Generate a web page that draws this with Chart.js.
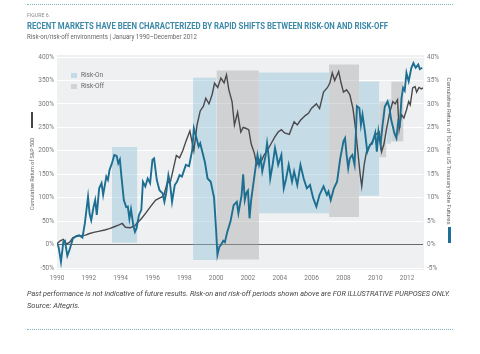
<!DOCTYPE html>
<html>
<head>
<meta charset="utf-8">
<script src="https://cdn.jsdelivr.net/npm/chart.js@4.4.1/dist/chart.umd.min.js"></script>
<style>
    body { margin: 0; background: #fff; }
    #wrap { position: relative; width: 480px; height: 354px; overflow: hidden; font-family: "Liberation Sans Narrow", Roboto, sans-serif; }
    canvas { position: absolute; left: 0; top: 0; }
    .txt { position: absolute; white-space: nowrap; display: inline-block; transform-origin: 0 50%; line-height: 1; }
    .dots { position: absolute; left: 27px; width: 426px; height: 0; border-top: 1px dotted #7fb0c4; }
    .rot { position: absolute; white-space: nowrap; line-height: 1; font-size: 6px; color: #666; }
    .bar { position: absolute; }
    .sw { position: absolute; width: 6px; height: 5px; }
</style>
</head>
<body>
<div id="wrap">
    <canvas id="grafico" width="480" height="354"></canvas>

    <div class="dots" style="top:4px"></div>
    <span class="txt" id="fig" style="left:27px; top:12px; font-size:6px; color:#8a8a8a;">FIGURE 6.</span>
    <span class="txt" id="titulo" style="left:27px; top:22px; font-size:9px; font-weight:bold; color:#3c89a8;">RECENT MARKETS HAVE BEEN CHARACTERIZED BY RAPID SHIFTS BETWEEN RISK-ON AND RISK-OFF</span>
    <span class="txt" id="sub" style="left:27px; top:34px; font-size:6.5px; color:#666;">Risk-on/risk-off environments | January 1990–December 2012</span>

    <div class="sw" style="left:71px; top:73px; background:#c3dbe7;"></div>
    <span class="txt" style="left:81px; top:72px; font-size:6.5px; color:#666;">Risk-On</span>
    <div class="sw" style="left:71px; top:84px; background:#d3d3d5;"></div>
    <span class="txt" style="left:81px; top:83px; font-size:6.5px; color:#666;">Risk-Off</span>

    <div class="rot" id="tituloEsq" style="left:32px; top:174px;"><span id="tEsq" style="display:inline-block;">Cumulative Return of S&amp;P 500</span></div>
    <div class="bar" style="left:31px; top:112px; width:2px; height:16px; background:#444;"></div>
    <div class="rot" id="tituloDir" style="left:449px; top:151px;"><span id="tDir" style="display:inline-block;">Cumulative Return of 10-Year US Treasury Note Futures</span></div>
    <div class="bar" style="left:448px; top:227px; width:3px; height:16px; background:#1e6f93;"></div>

    <span class="txt" id="nota" style="left:27px; top:291px; font-size:7px; font-style:italic; color:#444;">Past performance is not indicative of future results. Risk-on and risk-off periods shown above are FOR ILLUSTRATIVE PURPOSES ONLY.</span>
    <span class="txt" id="fonte" style="left:27px; top:303px; font-size:7px; font-style:italic; color:#444;">Source: Altegris.</span>
    <div class="dots" style="top:329px"></div>
</div>

<script>
// S&P 500 acumulado (eixo esquerdo, %)
var spAnos = [1990.0, 1990.2, 1990.4, 1990.6, 1990.8, 1991.0, 1991.2, 1991.5, 1991.8, 1992.0, 1992.3, 1992.6, 1993.0, 1993.3, 1993.6, 1993.9, 1994.1, 1994.3, 1994.6, 1994.9, 1995.0, 1995.3, 1995.6, 1995.9, 1996.2, 1996.5, 1996.7, 1996.95, 1997.1, 1997.3, 1997.5, 1997.7, 1997.9, 1998.1, 1998.35, 1998.6, 1998.8, 1999.0, 1999.2, 1999.35, 1999.55, 1999.75, 1999.9, 2000.1, 2000.3, 2000.5, 2000.65, 2000.8, 2001.0, 2001.15, 2001.35, 2001.55, 2001.7, 2001.85, 2002.05, 2002.2, 2002.4, 2002.55, 2002.7, 2002.8, 2003.0, 2003.2, 2003.45, 2003.7, 2003.9, 2004.1, 2004.3, 2004.6, 2004.9, 2005.1, 2005.3, 2005.6, 2005.8, 2006.0, 2006.3, 2006.5, 2006.75, 2007.0, 2007.15, 2007.3, 2007.45, 2007.7, 2007.85, 2008.0, 2008.2, 2008.4, 2008.6, 2008.75, 2008.9, 2009.05, 2009.15, 2009.3, 2009.45, 2009.7, 2009.9, 2010.0, 2010.25, 2010.4, 2010.55, 2010.7, 2010.9, 2011.1, 2011.25, 2011.4, 2011.5, 2011.65, 2011.8, 2011.96, 2012.1, 2012.2, 2012.35, 2012.5, 2012.6, 2012.75, 2012.9, 2013.0];
var spValores = [2, 8, 11, 1, 5, 15, 17, 19, 20, 23, 26, 28, 31, 34, 38, 42, 45, 37, 36, 40, 45, 55, 68, 82, 95, 100, 103, 135, 130, 160, 190, 185, 200, 220, 242, 200, 255, 285, 295, 312, 300, 320, 344, 335, 355, 345, 362, 330, 305, 255, 282, 240, 250, 248, 245, 215, 195, 170, 180, 175, 190, 200, 215, 230, 240, 245, 238, 235, 262, 255, 265, 275, 280, 291, 300, 290, 325, 335, 345, 366, 350, 369, 345, 325, 330, 320, 290, 250, 200, 150, 124, 170, 198, 213, 225, 234, 240, 198, 215, 245, 280, 305, 300, 309, 245, 277, 270, 287, 305, 298, 334, 337, 325, 335, 332, 334];

// Treasury 10 anos acumulado (eixo direito, %)
var tnAnos = [1990.0, 1990.1, 1990.25, 1990.4, 1990.5, 1990.65, 1990.8, 1991.0, 1991.2, 1991.4, 1991.6, 1991.75, 1991.95, 1992.05, 1992.15, 1992.3, 1992.4, 1992.5, 1992.65, 1992.8, 1992.9, 1993.1, 1993.2, 1993.3, 1993.45, 1993.6, 1993.75, 1993.85, 1993.95, 1994.05, 1994.2, 1994.35, 1994.45, 1994.55, 1994.65, 1994.8, 1994.9, 1995.0, 1995.15, 1995.3, 1995.4, 1995.55, 1995.7, 1995.85, 1996.0, 1996.1, 1996.27, 1996.44, 1996.64, 1996.75, 1996.86, 1997.0, 1997.1, 1997.23, 1997.4, 1997.54, 1997.7, 1997.85, 1998.1, 1998.3, 1998.5, 1998.6, 1998.7, 1998.9, 1999.0, 1999.1, 1999.3, 1999.46, 1999.66, 1999.87, 2000.0, 2000.08, 2000.2, 2000.3, 2000.45, 2000.55, 2000.7, 2000.9, 2001.1, 2001.3, 2001.4, 2001.6, 2001.7, 2001.8, 2001.9, 2002.0, 2002.1, 2002.2, 2002.3, 2002.5, 2002.6, 2002.7, 2002.8, 2002.9, 2003.1, 2003.2, 2003.3, 2003.4, 2003.55, 2003.7, 2003.8, 2003.9, 2004.1, 2004.25, 2004.4, 2004.56, 2004.77, 2004.9, 2005.1, 2005.3, 2005.5, 2005.7, 2005.9, 2006.1, 2006.3, 2006.5, 2006.75, 2006.96, 2007.06, 2007.2, 2007.4, 2007.6, 2007.8, 2008.0, 2008.1, 2008.2, 2008.3, 2008.4, 2008.56, 2008.7, 2008.85, 2009.0, 2009.1, 2009.2, 2009.35, 2009.5, 2009.67, 2009.8, 2010.0, 2010.1, 2010.2, 2010.33, 2010.46, 2010.6, 2010.77, 2010.9, 2011.0, 2011.2, 2011.33, 2011.44, 2011.54, 2011.65, 2011.75, 2011.85, 2011.96, 2012.1, 2012.27, 2012.4, 2012.54, 2012.7, 2012.8, 2012.95];
var tnValores = [0.3, -0.5, -3.7, 0.6, 0.8, -2.4, -1.0, 1.3, 1.8, 2.0, 1.5, 4.5, 10.2, 6.5, 5.2, 8.1, 9.5, 6.3, 12.0, 13.1, 10.6, 14.5, 13.8, 15.9, 17.3, 19.1, 18.9, 17.3, 18.1, 14.5, 9.5, 8.0, 8.1, 5.5, 7.5, 4.0, 2.7, 3.5, 6.3, 7.4, 13.4, 12.4, 14.1, 13.1, 18.1, 18.4, 13.8, 11.6, 10.9, 9.1, 10.9, 14.8, 13.1, 9.1, 12.7, 13.4, 14.8, 14.5, 17.0, 16.7, 20.2, 24.8, 23.6, 20.9, 21.6, 20.2, 17.5, 14.1, 13.4, 10.0, 3.0, -2.2, -0.5, -0.1, 0.8, 0.5, 2.7, 4.9, 8.4, 9.1, 6.7, 10.5, 15.0, 9.5, 11.0, 11.5, 5.6, 9.5, 12.0, 17.0, 19.1, 17.0, 18.5, 15.6, 18.8, 21.6, 18.8, 14.1, 17.0, 20.6, 19.0, 17.0, 19.1, 12.0, 14.1, 17.0, 13.4, 15.6, 12.7, 17.0, 14.1, 12.0, 12.7, 9.9, 8.1, 10.6, 12.4, 10.6, 11.3, 9.5, 12.0, 13.4, 18.4, 22.0, 22.7, 19.1, 16.3, 18.4, 19.1, 17.0, 29.5, 29.1, 25.5, 27.7, 24.1, 19.8, 21.3, 21.5, 23.8, 19.8, 24.1, 21.3, 25.5, 29.4, 30.5, 29.1, 26.6, 23.8, 22.7, 26.2, 25.5, 31.2, 33.4, 32.8, 36.6, 34.8, 37.7, 38.7, 37.7, 38.4, 37.4, 37.7];

// periodos: [inicio, fim, minimo, maximo] no eixo esquerdo
var riskOn = [[1993.45, 1995.05, 4, 208], [1998.55, 2000.02, -33, 356], [2002.69, 2007.1, 67, 367], [2008.98, 2010.25, 104, 348], [2010.7, 2011.0, 215, 310]];
var riskOff = [[2000.02, 2002.69, -32, 371], [2007.1, 2008.98, 59, 384], [2010.25, 2010.7, 186, 305], [2011.0, 2011.78, 220, 347]];

var anosTicks = [1990, 1992, 1994, 1996, 1998, 2000, 2002, 2004, 2006, 2008, 2010, 2012];

function pontos(xs, ys) {
    var lista = [];
    for (var i = 0; i < xs.length; i++) {
        lista.push({ x: xs[i], y: ys[i] });
    }
    return lista;
}

function caixas(periodos, cor) {
    return periodos.map(function (p) {
        return {
            data: [{ x: p[0], y: p[3] }, { x: p[1], y: p[3] }],
            yAxisID: 'y',
            borderWidth: 0,
            pointRadius: 0,
            backgroundColor: cor,
            fill: { value: p[2] },
            order: 10
        };
    });
}

var fundo = {
    id: 'fundo',
    beforeDraw: function (chart) {
        var a = chart.chartArea;
        var ctx = chart.ctx;
        ctx.save();
        ctx.fillStyle = '#eef0f2';
        ctx.fillRect(a.left, a.top - 2, a.right - a.left + 1, a.bottom - a.top + 4);
        ctx.restore();
    }
};

var fonteTicks = { family: '"Liberation Sans Narrow", Roboto, sans-serif', size: 6.5 };

var datasets = []
    .concat(caixas(riskOn, 'rgba(140, 190, 215, 0.42)'))
    .concat(caixas(riskOff, 'rgba(168, 168, 170, 0.42)'));

datasets.push({
    label: 'S&P 500',
    data: pontos(spAnos, spValores),
    yAxisID: 'y',
    borderColor: '#4a4a4c',
    borderWidth: 1.4,
    pointRadius: 0,
    fill: false,
    order: 2
});
datasets.push({
    label: '10-Year Treasury',
    data: pontos(tnAnos, tnValores),
    yAxisID: 'y2',
    borderColor: '#1d6f92',
    borderWidth: 1.9,
    pointRadius: 0,
    fill: false,
    order: 1
});

new Chart(document.getElementById('grafico'), {
    type: 'line',
    data: { datasets: datasets },
    options: {
        responsive: false,
        animation: false,
        devicePixelRatio: 1,
        layout: { padding: { top: 57, bottom: 62, left: 27, right: 27 } },
        plugins: {
            legend: { display: false },
            tooltip: { enabled: false }
        },
        scales: {
            x: {
                type: 'linear',
                min: 1990,
                max: 2013,
                afterFit: function (s) { s.height = 24; },
                afterBuildTicks: function (s) {
                    s.ticks = anosTicks.map(function (v) { return { value: v }; });
                },
                ticks: {
                    color: '#7a7a7a',
                    font: fonteTicks,
                    padding: 6,
                    maxRotation: 0,
                    autoSkip: false,
                    callback: function (v) { return String(v); }
                },
                grid: { display: false, drawTicks: false },
                border: { display: false }
            },
            y: {
                min: -50,
                max: 400,
                afterFit: function (s) { s.width = 30; },
                ticks: {
                    stepSize: 50,
                    color: '#7a7a7a',
                    font: fonteTicks,
                    padding: 3,
                    callback: function (v) { return v + '%'; }
                },
                grid: {
                    drawTicks: false,
                    lineWidth: 1,
                    color: function (c) { return c.tick.value === 0 ? '#6a6a6a' : '#ffffff'; }
                },
                border: { display: false }
            },
            y2: {
                position: 'right',
                min: -5,
                max: 40,
                afterFit: function (s) { s.width = 30; },
                ticks: {
                    stepSize: 5,
                    color: '#7a7a7a',
                    font: fonteTicks,
                    padding: 4,
                    callback: function (v) { return v + '%'; }
                },
                grid: { display: false, drawTicks: false },
                border: { display: false }
            }
        }
    },
    plugins: [fundo]
});

// ajusta largura dos textos ao da figura
function ajustar(id, largura) {
    var el = document.getElementById(id);
    var w = el.getBoundingClientRect().width;
    el.style.transform = 'scaleX(' + (largura / w) + ')';
}

ajustar('fig', 23);
ajustar('titulo', 361);
ajustar('sub', 170);
ajustar('nota', 423);
ajustar('fonte', 53);

function girar(id, inner, largura, graus) {
    var el = document.getElementById(id);
    var sp = document.getElementById(inner);
    var w = sp.getBoundingClientRect().width;
    sp.style.transform = 'scaleX(' + (largura / w) + ')';
    el.style.transform = 'translate(-50%, -50%) rotate(' + graus + 'deg)';
}

girar('tituloEsq', 'tEsq', 72, -90);
girar('tituloDir', 'tDir', 147, 90);
</script>
</body>
</html>
